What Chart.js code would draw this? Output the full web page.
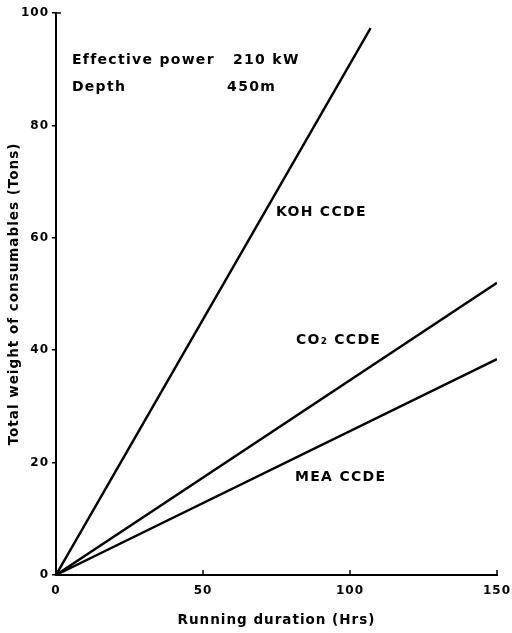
<!DOCTYPE html>
<html>
<head>
<meta charset="utf-8">
<script src="https://cdn.jsdelivr.net/npm/chart.js@4"></script>
<style>
	html, body { margin: 0; padding: 0; background: #fff; }
	#wrap { width: 512px; height: 633px; }
</style>
</head>
<body>
<div id="wrap"><canvas id="myChart" width="512" height="633"></canvas></div>
<script>
// 데이터 (Running duration vs Total weight)
var kohHours = [0, 107];
var kohTons = [0, 97.3];
var co2Hours = [0, 150];
var co2Tons = [0, 52];
var meaHours = [0, 150];
var meaTons = [0, 38.4];

var xTicks = [0, 50, 100, 150];
var yTicks = [0, 20, 40, 60, 80, 100];

var lineLabels = ['KOH CCDE', 'CO\u2082 CCDE', 'MEA CCDE'];

var FONT = '"DejaVu Sans", sans-serif';

// x, y 배열을 점 배열로 변환
function toPoints(xs, ys) {
	return xs.map(function(x, i) { return { x: x, y: ys[i] }; });
}

function lineSet(label, xs, ys) {
	return {
		label: label,
		data: toPoints(xs, ys),
		showLine: true,
		borderColor: '#000',
		borderWidth: 2.4,
		pointRadius: 0,
		fill: false
	};
}

// 글자 간격 (원본 레터링처럼 넓게)
var spacingPlugin = {
	id: 'spacing',
	beforeDraw: function(chart) {
		chart.ctx.letterSpacing = '1px';
	}
};

// 차트 안의 글자 그리기
var textPlugin = {
	id: 'notes',
	afterDatasetsDraw: function(chart) {
		var ctx = chart.ctx;
		var xs = chart.scales.x, ys = chart.scales.y;
		var notes = [
			{ t: 'Effective power', x: 5.4, y: 91.6 },
			{ t: '210 kW', x: 60.2, y: 91.6 },
			{ t: 'Depth', x: 5.4, y: 86.7 },
			{ t: '450m', x: 58.2, y: 86.7 },
			{ t: lineLabels[0], x: 74.8, y: 64.6 },
			{ t: lineLabels[1], x: 81.6, y: 41.8 },
			{ t: lineLabels[2], x: 81.3, y: 17.4 }
		];
		ctx.save();
		ctx.fillStyle = '#000';
		ctx.font = 'bold 14px ' + FONT;
		ctx.letterSpacing = '1.3px';
		ctx.textBaseline = 'middle';
		ctx.textAlign = 'left';
		notes.forEach(function(n) {
			ctx.fillText(n.t, xs.getPixelForValue(n.x), ys.getPixelForValue(n.y));
		});

		// x축 안쪽 작은 눈금
		ctx.strokeStyle = '#000';
		ctx.lineWidth = 1.5;
		var base = ys.getPixelForValue(0);
		xTicks.slice(1).forEach(function(v) {
			var px = xs.getPixelForValue(v);
			ctx.beginPath();
			ctx.moveTo(px, base);
			ctx.lineTo(px, base - 5);
			ctx.stroke();
		});
		// y축 맨 위 눈금
		var top = ys.getPixelForValue(100);
		ctx.beginPath();
		ctx.moveTo(xs.getPixelForValue(0), top);
		ctx.lineTo(xs.getPixelForValue(0) + 5, top);
		ctx.stroke();
		ctx.restore();
	}
};

var ctx = document.getElementById('myChart').getContext('2d');
new Chart(ctx, {
	type: 'scatter',
	data: {
		datasets: [
			lineSet(lineLabels[0], kohHours, kohTons),
			lineSet(lineLabels[1], co2Hours, co2Tons),
			lineSet(lineLabels[2], meaHours, meaTons)
		]
	},
	options: {
		responsive: false,
		animation: false,
		layout: { padding: { top: 13, right: 15, left: 0, bottom: 0 } },
		plugins: {
			legend: { display: false },
			tooltip: { enabled: false }
		},
		scales: {
			x: {
				type: 'linear',
				min: 0,
				max: 150,
				afterBuildTicks: function(scale) {
					scale.ticks = xTicks.map(function(v) { return { value: v }; });
				},
				afterFit: function(scale) { scale.height = 58; },
				grid: { display: false },
				border: { display: true, color: '#000', width: 2 },
				ticks: {
					color: '#000',
					padding: 1,
					maxRotation: 0,
					font: { family: FONT, size: 12, weight: 'bold' }
				},
				title: {
					display: true,
					text: 'Running duration (Hrs)',
					color: '#000',
					padding: { top: 12, bottom: 4 },
					font: { family: FONT, size: 13.5, weight: 'bold' }
				}
			},
			y: {
				type: 'linear',
				min: 0,
				max: 100,
				afterBuildTicks: function(scale) {
					scale.ticks = yTicks.map(function(v) { return { value: v }; });
				},
				afterFit: function(scale) { scale.width = 56; },
				grid: {
					drawOnChartArea: false,
					drawTicks: true,
					tickLength: 4,
					color: '#000',
					lineWidth: 1.5
				},
				border: { display: true, color: '#000', width: 2 },
				ticks: {
					color: '#000',
					padding: 3,
					font: { family: FONT, size: 12, weight: 'bold' }
				},
				title: {
					display: true,
					text: 'Total weight of consumables (Tons)',
					color: '#000',
					padding: { top: 6, bottom: 6 },
					font: { family: FONT, size: 13.5, weight: 'bold' }
				}
			}
		}
	},
	plugins: [spacingPlugin, textPlugin]
});
</script>
</body>
</html>
